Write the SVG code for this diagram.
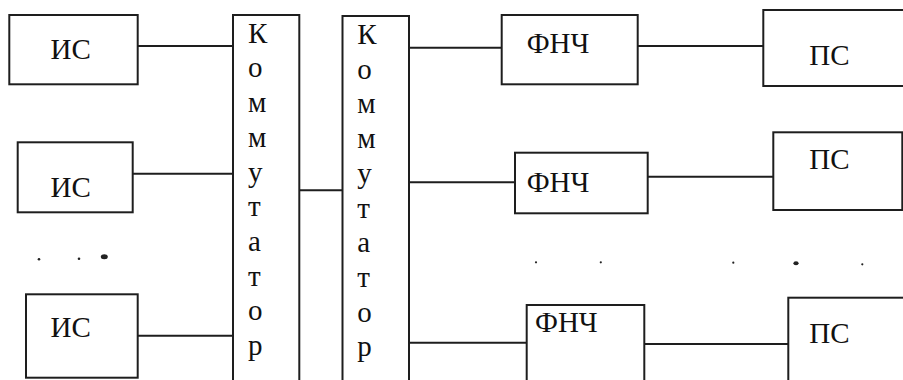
<svg xmlns="http://www.w3.org/2000/svg" width="903" height="380" viewBox="0 0 903 380">
  <style>
    .box { fill: #ffffff; stroke: #1e1e1e; stroke-width: 2; }
    .wire { fill: none; stroke: #1e1e1e; stroke-width: 2; }
    .dot { fill: #222; }
  </style>
  <rect width="903" height="380" fill="#ffffff"/>

  <!-- connectors -->
  <g id="connectors">
    <line class="wire" x1="137" y1="46" x2="233" y2="46"/>
    <line class="wire" x1="133" y1="173.7" x2="233" y2="173.7"/>
    <line class="wire" x1="137.7" y1="335.7" x2="233" y2="335.7"/>
    <line class="wire" x1="299.3" y1="190.3" x2="342.5" y2="190.3"/>
    <line class="wire" x1="409" y1="47.7" x2="501.7" y2="47.7"/>
    <line class="wire" x1="407.3" y1="182.3" x2="515" y2="182.3"/>
    <line class="wire" x1="409" y1="342.7" x2="526.7" y2="342.7"/>
    <line class="wire" x1="637.7" y1="46" x2="763.3" y2="46"/>
    <line class="wire" x1="647.7" y1="176.7" x2="773.3" y2="176.7"/>
    <line class="wire" x1="644.3" y1="344" x2="788.3" y2="344"/>
  </g>

  <g font-family="Liberation Serif, DejaVu Serif, Times New Roman, serif" font-size="29" fill="#111">
  <!-- sources -->
  <g id="is1">
    <rect class="box" x="9.3" y="15" width="128.4" height="69.3"/>
    <text x="50.5" y="58.5">ИС</text>
  </g>
  <g id="is2">
    <rect class="box" x="17.7" y="142.3" width="115" height="70"/>
    <text x="50.5" y="197.3">ИС</text>
  </g>
  <g id="is3">
    <rect class="box" x="26" y="294.3" width="111.7" height="83.4"/>
    <text x="50.5" y="336.7">ИС</text>
  </g>

  <!-- switches -->
  <g id="switch1">
    <rect class="box" x="233" y="15" width="66.3" height="380"/>
    <text x="248">
      <tspan x="248" y="42.7">К</tspan>
      <tspan x="248" y="77.4">о</tspan>
      <tspan x="248" y="112.1">м</tspan>
      <tspan x="248" y="146.8">м</tspan>
      <tspan x="248" y="181.5">у</tspan>
      <tspan x="248" y="216.2">т</tspan>
      <tspan x="248" y="250.9">а</tspan>
      <tspan x="248" y="285.6">т</tspan>
      <tspan x="248" y="320.3">о</tspan>
      <tspan x="248" y="355">р</tspan>
    </text>
  </g>
  <g id="switch2">
    <rect class="box" x="342.5" y="16" width="66.5" height="380"/>
    <text x="357.3">
      <tspan x="357.3" y="44">К</tspan>
      <tspan x="357.3" y="78.7">о</tspan>
      <tspan x="357.3" y="113.4">м</tspan>
      <tspan x="357.3" y="148.1">м</tspan>
      <tspan x="357.3" y="182.8">у</tspan>
      <tspan x="357.3" y="217.5">т</tspan>
      <tspan x="357.3" y="252.2">а</tspan>
      <tspan x="357.3" y="286.9">т</tspan>
      <tspan x="357.3" y="321.6">о</tspan>
      <tspan x="357.3" y="355.5">р</tspan>
    </text>
  </g>

  <!-- low-pass filters -->
  <g id="lpf1">
    <rect class="box" x="501.7" y="15" width="136" height="69.3"/>
    <text x="526.7" y="53.3">ФНЧ</text>
  </g>
  <g id="lpf2">
    <rect class="box" x="515" y="152.7" width="132.7" height="60.6"/>
    <text x="526.7" y="192">ФНЧ</text>
  </g>
  <g id="lpf3">
    <rect class="box" x="526.7" y="305" width="117.6" height="90"/>
    <text x="535" y="331.7">ФНЧ</text>
  </g>

  <!-- receivers -->
  <g id="ps1">
    <rect class="box" x="763.3" y="10" width="150" height="76"/>
    <text x="809.3" y="65">ПС</text>
  </g>
  <g id="ps2">
    <rect class="box" x="773.3" y="132.3" width="129" height="77.7"/>
    <text x="809.3" y="169.3">ПС</text>
  </g>
  <g id="ps3">
    <rect class="box" x="788.3" y="297.7" width="125" height="100"/>
    <text x="809.3" y="343.3">ПС</text>
  </g>
  </g>

  <!-- ellipsis dots -->
  <g id="dots">
    <circle class="dot" cx="39" cy="259.3" r="1.3"/>
    <circle class="dot" cx="79" cy="258.7" r="1.3"/>
    <ellipse class="dot" cx="104.3" cy="256.7" rx="3.5" ry="2.5"/>
    <circle class="dot" cx="536" cy="262.3" r="1.1"/>
    <circle class="dot" cx="600.8" cy="262.3" r="1.1"/>
    <circle class="dot" cx="733.3" cy="262.7" r="1.1"/>
    <ellipse class="dot" cx="796" cy="263.3" rx="2.6" ry="2"/>
    <circle class="dot" cx="862.3" cy="264.3" r="1.1"/>
  </g>
</svg>
